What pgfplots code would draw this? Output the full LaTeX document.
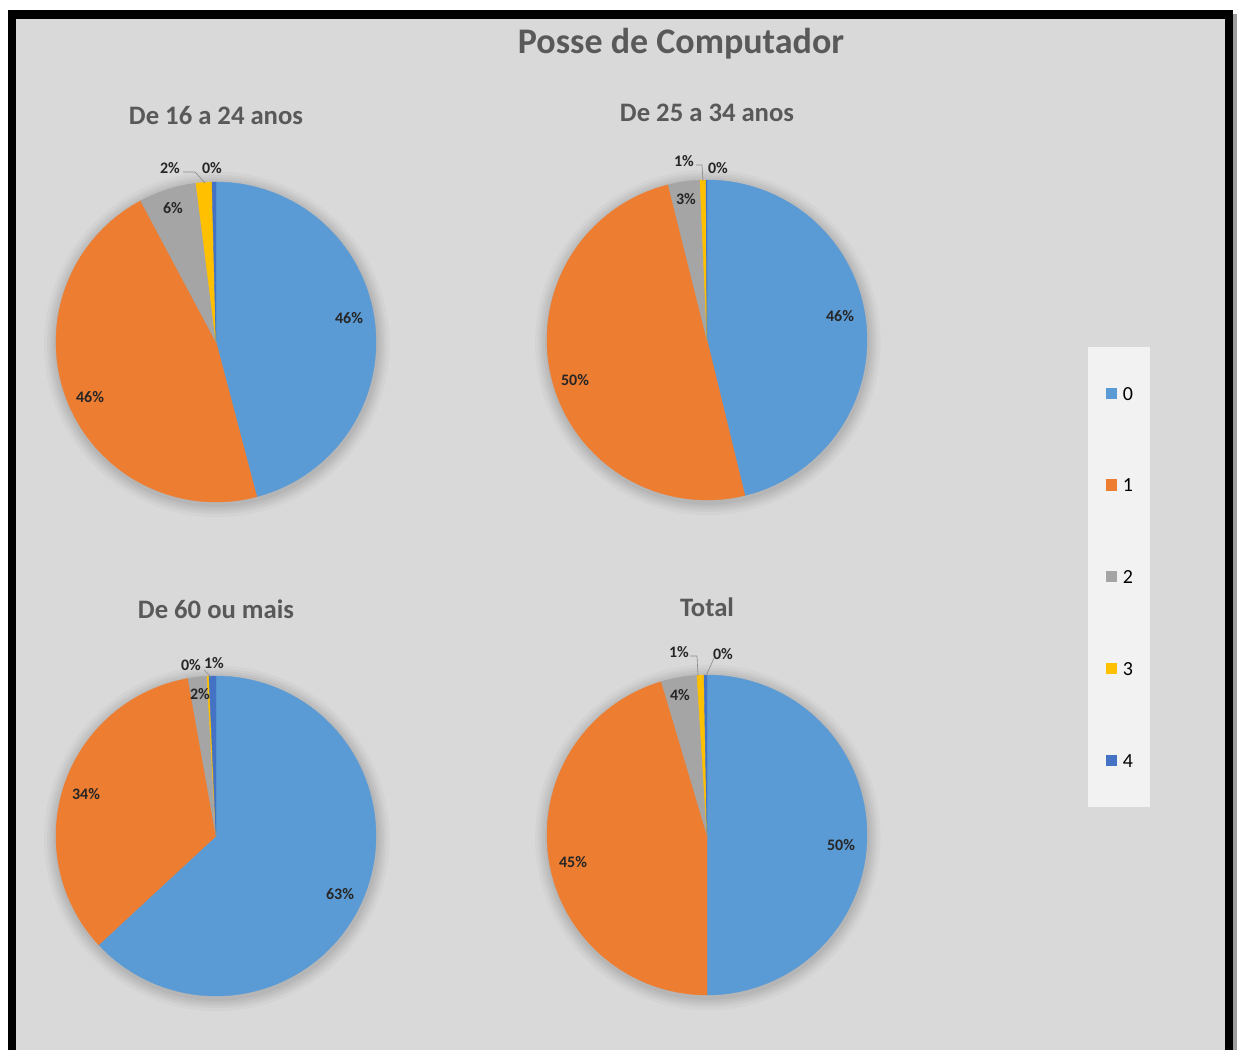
\documentclass[border=0pt]{standalone}
\usepackage{fontspec}
\setmainfont{Carlito}
\usepackage{pgfplots}
\pgfplotsset{compat=1.18}

\definecolor{c0}{HTML}{5B9BD5}
\definecolor{c1}{HTML}{ED7D31}
\definecolor{c2}{HTML}{A5A5A5}
\definecolor{c3}{HTML}{FFC000}
\definecolor{c4}{HTML}{4472C4}
\definecolor{bgc}{HTML}{D9D9D9}
\definecolor{legbg}{HTML}{F2F2F2}
\definecolor{titc}{HTML}{595959}
\definecolor{labc}{HTML}{262626}

% pixel position of the reference -> picture coordinates (y flipped)
\newcommand{\px}[2]{({#1},{1050-#2})}

% one pie slice: colour, start (in %), share (in %)
\newcommand{\slice}[3]{%
  \addplot[draw=#1, fill=#1, line width=0.3pt, domain=#2:#2+#3, samples=90, variable=\t]
    ({cos(90-3.6*\t)}, {sin(90-3.6*\t)}) -- (0,0) -- cycle;}

% soft shadow round a pie
\newcommand{\pieshadow}{%
  \fill[black, opacity=0.025] (0.005,-0.015) circle[radius=1.08];
  \fill[black, opacity=0.03] (0.005,-0.015) circle[radius=1.06];
  \fill[black, opacity=0.03] (0.005,-0.015) circle[radius=1.045];
  \fill[black, opacity=0.035] (0.005,-0.015) circle[radius=1.03];
  \fill[black, opacity=0.04] (0.005,-0.015) circle[radius=1.015];}

\pgfplotsset{
  pie/.style={
    hide axis, clip=false, anchor=center,
    x=120pt, y=120pt,
    xmin=-1, xmax=1, ymin=-1, ymax=1,
  },
}

\tikzset{
  lab/.style={font=\fontsize{12}{14}\selectfont\bfseries, text=labc, inner sep=0pt},
  sub/.style={font=\fontsize{20}{24}\selectfont\bfseries, text=titc},
  lead/.style={draw=black!45, line width=0.5pt},
}

\begin{document}
\begin{tikzpicture}[x=0.75pt, y=0.75pt]
  % page and frame
  \fill[white] (0,0) rectangle (1237,1050);
  \fill[bgc] (16,0) rectangle (1225,1031);
  \fill[black] (8,0) rectangle (16,1040);
  \fill[black] (8,1031) rectangle (1233,1040);
  \fill[black] (1225,0) rectangle (1233,1040);
  \fill[black!38] (1233,0) rectangle (1237,1036);

  \node[font=\fontsize{27}{32}\selectfont\bfseries, text=titc] at \px{681}{44} {Posse de Computador};

  % De 16 a 24 anos
  \node[sub] at \px{216}{116} {De 16 a 24 anos};
  \begin{axis}[pie, at={(162pt,531pt)}]
    \pieshadow
    \slice{c0}{0}{45.9}
    \slice{c1}{45.9}{46.3}
    \slice{c2}{92.2}{5.8}
    \slice{c3}{98.0}{1.6}
    \slice{c4}{99.6}{0.4}
  \end{axis}
  \node[lab] at \px{349}{318} {46\%};
  \node[lab] at \px{90}{397} {46\%};
  \node[lab] at \px{173}{208} {6\%};
  \node[lab] at \px{170}{168} {2\%};
  \node[lab] at \px{212}{168} {0\%};
  \draw[lead] \px{183}{172} -- \px{195}{172} -- \px{205}{183};

  % De 25 a 34 anos
  \node[sub] at \px{707}{113} {De 25 a 34 anos};
  \begin{axis}[pie, at={(530.25pt,532.5pt)},
    legend style={
      at={(1.6906,0.478)}, anchor=north west,
      fill=legbg, draw=none,
      font=\fontsize{15}{18}\selectfont,
      inner xsep=13pt, inner ysep=30pt,
      row sep=59.2pt, column sep=4.5pt,
      nodes={inner sep=0pt, text height=9.6pt, text depth=0pt},
    },
    legend image code/.code={\fill[#1, draw=none] (0pt,-3.9pt) rectangle (8.4pt,4.5pt);},
  ]
    \pieshadow
    \slice{c0}{0}{46.2}
    \slice{c1}{46.2}{49.9}
    \slice{c2}{96.1}{3.2}
    \slice{c3}{99.3}{0.6}
    \slice{c4}{99.9}{0.1}
    \legend{0,1,2,3,4}
  \end{axis}
  \node[lab] at \px{840}{316} {46\%};
  \node[lab] at \px{575}{380} {50\%};
  \node[lab] at \px{686}{199} {3\%};
  \node[lab] at \px{684}{161} {1\%};
  \node[lab] at \px{718}{168} {0\%};
  \draw[lead] \px{696}{165} -- \px{702}{165} -- \px{703}{181};

  % De 60 ou mais
  \node[sub] at \px{216}{609} {De 60 ou mais};
  \begin{axis}[pie, at={(162pt,160.5pt)}]
    \pieshadow
    \slice{c0}{0}{63.1}
    \slice{c1}{63.1}{34.1}
    \slice{c2}{97.2}{1.9}
    \slice{c3}{99.1}{0.2}
    \slice{c4}{99.3}{0.7}
  \end{axis}
  \node[lab] at \px{340}{894} {63\%};
  \node[lab] at \px{86}{794} {34\%};
  \node[lab] at \px{200}{694} {2\%};
  \node[lab] at \px{191}{665} {0\%};
  \node[lab] at \px{214}{663} {1\%};
  \draw[lead] \px{204}{670} -- \px{211}{677};

  % Total
  \node[sub] at \px{707}{607} {Total};
  \begin{axis}[pie, at={(530.25pt,161.25pt)}]
    \pieshadow
    \slice{c0}{0}{50.0}
    \slice{c1}{50.0}{45.4}
    \slice{c2}{95.4}{3.6}
    \slice{c3}{99.0}{0.7}
    \slice{c4}{99.7}{0.3}
  \end{axis}
  \node[lab] at \px{841}{845} {50\%};
  \node[lab] at \px{573}{862} {45\%};
  \node[lab] at \px{680}{695} {4\%};
  \node[lab] at \px{679}{652} {1\%};
  \node[lab] at \px{723}{654} {0\%};
  \draw[lead] \px{690}{656} -- \px{697}{656} -- \px{698}{676};
  \draw[lead] \px{714}{658} -- \px{706}{676};
\end{tikzpicture}
\end{document}
